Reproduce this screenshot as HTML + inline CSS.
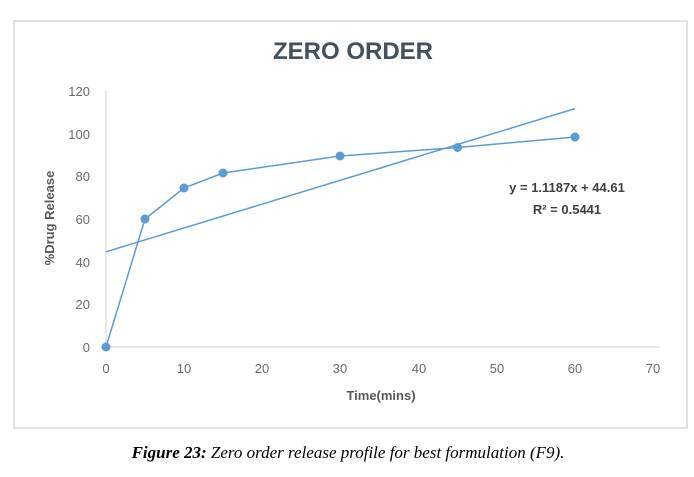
<!DOCTYPE html>
<html><head><style>
body{margin:0;background:#fff;}
svg text{font-family:"Liberation Sans",sans-serif;}
</style></head><body>
<svg width="694" height="472" xmlns="http://www.w3.org/2000/svg">
<rect x="14" y="21" width="673" height="407" fill="#fff" stroke="#d9d9d9" stroke-width="1.5"/>
<text x="353" y="59" text-anchor="middle" font-size="24" font-weight="bold" fill="#44505e">ZERO ORDER</text>
<line x1="106" y1="91" x2="106" y2="347" stroke="#d9d9d9" stroke-width="1.2"/>
<line x1="106" y1="347" x2="660" y2="347" stroke="#d9d9d9" stroke-width="1.2"/>
<g font-size="13" fill="#6b6b6b" text-anchor="end">
<text x="90" y="352">0</text><text x="90" y="309">20</text><text x="90" y="267">40</text>
<text x="90" y="224">60</text><text x="90" y="181">80</text><text x="90" y="139">100</text><text x="90" y="96">120</text>
</g>
<g font-size="13" fill="#6b6b6b" text-anchor="middle">
<text x="106" y="373">0</text><text x="184" y="373">10</text><text x="262" y="373">20</text>
<text x="340" y="373">30</text><text x="419" y="373">40</text><text x="497" y="373">50</text>
<text x="575" y="373">60</text><text x="653" y="373">70</text>
</g>
<text x="381" y="400" text-anchor="middle" font-size="13" font-weight="bold" fill="#595959">Time(mins)</text>
<text transform="translate(54,218) rotate(-90)" text-anchor="middle" font-size="13" font-weight="bold" fill="#595959">%Drug Release</text>
<line x1="106" y1="251.8" x2="575" y2="108.6" stroke="#5b9bd5" stroke-width="1.5"/>
<polyline fill="none" stroke="#5b9bd5" stroke-width="1.5" points="106,347 145,219 184,188 223,173 340,156 457.6,147.5 575,137"/>
<g fill="#5b9bd5">
<circle cx="106" cy="347" r="4.5"/><circle cx="145" cy="219" r="4.5"/><circle cx="184" cy="188" r="4.5"/>
<circle cx="223" cy="173" r="4.5"/><circle cx="340" cy="156" r="4.5"/><circle cx="457.6" cy="147.5" r="4.5"/>
<circle cx="575" cy="137" r="4.5"/>
</g>
<text x="567" y="192" text-anchor="middle" font-size="13" font-weight="bold" fill="#404040">y = 1.1187x + 44.61</text>
<text x="567" y="214" text-anchor="middle" font-size="13" font-weight="bold" fill="#404040">R² = 0.5441</text>
<text x="348" y="458" text-anchor="middle" font-size="17" font-style="italic" fill="#000" style="font-family:'Liberation Serif',serif"><tspan font-weight="bold">Figure 23:</tspan> Zero order release profile for best formulation (F9).</text>
</svg>
</body></html>
